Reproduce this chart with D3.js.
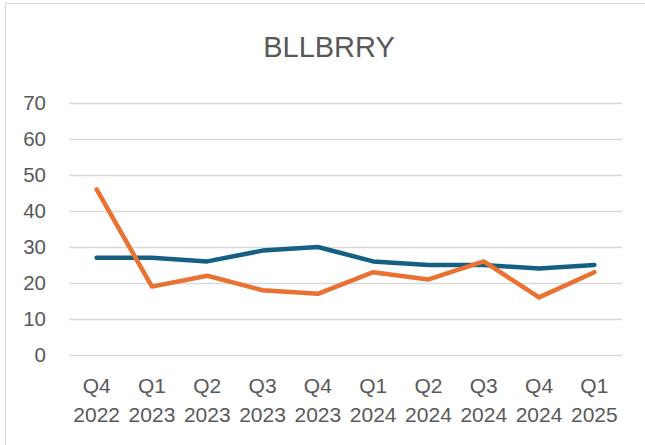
<!DOCTYPE html>
<html>
<head>
<meta charset="utf-8">
<script src="https://cdn.jsdelivr.net/npm/d3@7"></script>
<style>
  html, body { margin: 0; padding: 0; background: #fff; }
  svg { display: block; }
  text { font-family: "Liberation Sans", Arial, sans-serif; fill: #595959; }
</style>
</head>
<body>
<svg id="chart" width="645" height="445"></svg>
<script>
const title = "BLLBRRY";
const quarters = ["Q4", "Q1", "Q2", "Q3", "Q4", "Q1", "Q2", "Q3", "Q4", "Q1"];
const years = ["2022", "2023", "2023", "2023", "2023", "2024", "2024", "2024", "2024", "2025"];
const seriesBlue = [27, 27, 26, 29, 30, 26, 25, 25, 24, 25];
const seriesOrange = [46, 19, 22, 18, 17, 23, 21, 26, 16, 23];
const yTicks = [0, 10, 20, 30, 40, 50, 60, 70];

const categories = quarters.map((q, i) => q + " " + years[i]);

const svg = d3.select("#chart");
const W = 645, H = 445;
const plotLeft = 69, plotRight = 622, plotTop = 103, plotBottom = 355;

// chart border
svg.append("rect")
  .attr("x", 5.5).attr("y", 3.5)
  .attr("width", W + 20).attr("height", H + 20)
  .attr("fill", "none").attr("stroke", "#d9d9d9").attr("stroke-width", 1);

svg.append("text")
  .attr("x", 329).attr("y", 57)
  .attr("text-anchor", "middle")
  .attr("font-size", 29)
  .text(title);

const x = d3.scaleBand().domain(categories).range([plotLeft, plotRight]).padding(0);
const y = d3.scaleLinear().domain([0, 70]).range([plotBottom, plotTop]);

// gridlines + y labels
const yAxis = d3.axisLeft(y).tickValues(yTicks).tickSize(-(plotRight - plotLeft)).tickPadding(23);
const gy = svg.append("g").attr("transform", `translate(${plotLeft},0)`).call(yAxis);
gy.select(".domain").remove();
gy.selectAll(".tick line").attr("stroke", "#d9d9d9").attr("stroke-width", 1.3);
gy.selectAll(".tick text")
  .attr("font-size", 20.5)
  .attr("fill", "#595959")
  .attr("font-family", "Liberation Sans, Arial, sans-serif");

// x labels
const xAxis = d3.axisBottom(x).tickSize(0).tickFormat(() => "");
const gx = svg.append("g").attr("transform", `translate(0,${plotBottom})`).call(xAxis);
gx.select(".domain").remove();
gx.selectAll(".tick").each(function(d, i) {
  const t = d3.select(this).append("text")
    .attr("text-anchor", "middle")
    .attr("font-size", 21)
    .attr("fill", "#595959")
    .attr("font-family", "Liberation Sans, Arial, sans-serif");
  t.append("tspan").attr("x", 0).attr("y", 38).text(quarters[i]);
  t.append("tspan").attr("x", 0).attr("y", 67).text(years[i]);
});

const line = d3.line()
  .x((d, i) => x(categories[i]) + x.bandwidth() / 2)
  .y(d => y(d));

svg.append("path").datum(seriesBlue)
  .attr("d", line).attr("fill", "none")
  .attr("stroke", "#156082").attr("stroke-width", 4.5)
  .attr("stroke-linecap", "round").attr("stroke-linejoin", "round");

svg.append("path").datum(seriesOrange)
  .attr("d", line).attr("fill", "none")
  .attr("stroke", "#E97132").attr("stroke-width", 4.5)
  .attr("stroke-linecap", "round").attr("stroke-linejoin", "round");
</script>
</body>
</html>
